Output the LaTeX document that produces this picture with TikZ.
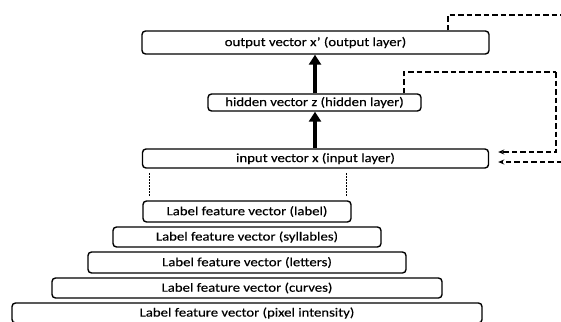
\documentclass[tikz,border=0pt]{standalone}
\usepackage{fontspec}
\setmainfont{Carlito}[FakeStretch=1.18,FakeBold=0.3]
\usetikzlibrary{arrows.meta,calc}
\begin{document}
\begin{tikzpicture}[x=1pt,y=-1pt,
  box/.style={draw, line width=1.4pt, rounded corners=3.5pt, inner sep=0pt, font=\fontsize{12.5}{15}\selectfont, text=black},
  uparrow/.style={line width=4pt, -{Triangle[width=12pt,length=10pt]}},
  fb/.style={line width=1.6pt, dash pattern=on 5.5pt off 3pt},
  fbarrow/.style={fb, -{Stealth[length=6pt,width=5pt]}},
  guide/.style={line width=0.8pt, dash pattern=on 1.5pt off 1.5pt}]
\useasboundingbox (0,0) rectangle (561,321);
\clip (0,0) rectangle (561,321);
\node[box, minimum width=347pt, minimum height=23pt] (out) at (315.5,42.5) {output vector x{\textquoteright} (output layer)};
\node[box, minimum width=213pt, minimum height=17pt] (hid) at (314.5,102.5) {hidden vector z (hidden layer)};
\node[box, minimum width=346pt, minimum height=19pt] (in) at (315.5,158.5) {input vector x (input layer)};
\node[box, minimum width=208pt, minimum height=21pt] (l1) at (247,211.5) {Label feature vector (label)};
\node[box, minimum width=268pt, minimum height=20pt] (l2) at (247,237) {Label feature vector (syllables)};
\node[box, minimum width=318pt, minimum height=21pt] (l3) at (247,262.5) {Label feature vector (letters)};
\node[box, minimum width=390pt, minimum height=20pt] (l4) at (247,288) {Label feature vector (curves)};
\node[box, minimum width=470pt, minimum height=20pt] (l5) at (247,313) {Label feature vector (pixel intensity)};
\draw[uparrow] (in.north -| 315,0) -- (hid.south -| 315,0);
\draw[uparrow] (hid.north -| 315,0) -- (out.south -| 315,0);
\coordinate (e1) at (562,15);
\coordinate (r1) at (562,162);
\coordinate (k2) at (556,72);
\draw[fb] (out.north -| 448,0) |- (e1);
\draw[fbarrow, shorten >=9pt] (r1) -- (in.east |- r1);
\draw[fb] (hid.north -| 404,0) |- (k2);
\draw[fbarrow, shorten >=9pt] (k2) |- (in.east |- 0,152);
\coordinate (d1a) at (149,173);
\coordinate (d1b) at (149,197);
\coordinate (d2a) at (346,173);
\coordinate (d2b) at (346,197);
\draw[guide] (d1a) -- (d1b);
\draw[guide] (d2a) -- (d2b);
\end{tikzpicture}
\end{document}
